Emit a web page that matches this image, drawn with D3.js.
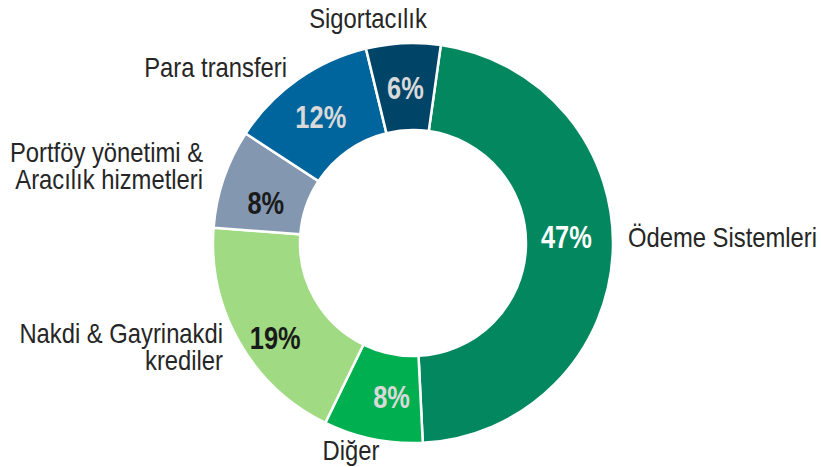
<!DOCTYPE html>
<html>
<head>
<meta charset="utf-8">
<script src="https://cdn.jsdelivr.net/npm/d3@7"></script>
<style>
  body { margin: 0; background: #fff; }
  svg text { font-family: "Liberation Sans", Arial, sans-serif; }
</style>
</head>
<body>
<svg width="821" height="467"></svg>
<script>
// Data
const categories = ["Ödeme Sistemleri", "Diğer", "Nakdi & Gayrinakdi krediler", "Portföy yönetimi & Aracılık hizmetleri", "Para transferi", "Sigortacılık"];
const shares = [47, 8, 19, 8, 12, 6];
const colors = ["#02875f", "#00b050", "#a0da82", "#8497b0", "#00659c", "#004468"];
const pctColors = ["#ffffff", "#d9d9d9", "#1a1a1a", "#1a1a1a", "#d9d9d9", "#d9d9d9"];

// Outer label lines
const labelLines = [["Ödeme Sistemleri"], ["Diğer"], ["Nakdi & Gayrinakdi", "krediler"], ["Portföy yönetimi &", "Aracılık hizmetleri"], ["Para transferi"], ["Sigortacılık"]];

// Layout (label placement, not data)
const labelLayout = [
    { x: 628, y: 247, anchor: "start" },
    { x: 351, y: 460, anchor: "middle" },
    { x: 223, y: 343, anchor: "end" },
    { x: 203, y: 162, anchor: "end" },
    { x: 287, y: 77, anchor: "end" },
    { x: 368, y: 28, anchor: "middle" }
];
const pctNudge = [[-3, -13], [10, 1], [-2, 17], [1, 10], [-2, 2], [0, 1]];
const narrow = 0.85;

const svg = d3.select("svg");
const cx = 413, cy = 243;
const outerR = 200, innerR = 113;
const startAngle = 8 * Math.PI / 180;

const pie = d3.pie()
    .sort(null)
    .startAngle(startAngle)
    .endAngle(startAngle + 2 * Math.PI);

const arcs = pie(shares);
const arc = d3.arc().innerRadius(innerR).outerRadius(outerR);

const g = svg.append("g").attr("transform", `translate(${cx},${cy})`);

// Slices
g.selectAll("path")
    .data(arcs)
    .enter()
    .append("path")
    .attr("d", arc)
    .attr("fill", (d, i) => colors[i])
    .attr("stroke", "#fff")
    .attr("stroke-width", 2.5);

// Percent labels
const labelArc = d3.arc().innerRadius(innerR + 40).outerRadius(outerR - 40);
g.selectAll("text.pct")
    .data(arcs)
    .enter()
    .append("text")
    .attr("class", "pct")
    .attr("transform", (d, i) => {
        const c = labelArc.centroid(d);
        return `translate(${c[0] + pctNudge[i][0]},${c[1] + pctNudge[i][1]}) scale(0.82,1)`;
    })
    .attr("text-anchor", "middle")
    .attr("dy", "0.36em")
    .attr("font-size", 31)
    .attr("font-weight", "bold")
    .attr("fill", (d, i) => pctColors[i])
    .text((d, i) => shares[i] + "%");

// Category labels
labelLines.forEach((lines, i) => {
    const p = labelLayout[i];
    const t = svg.append("text")
        .attr("transform", `translate(${p.x},${p.y}) scale(${narrow},1)`)
        .attr("text-anchor", p.anchor)
        .attr("font-size", 28)
        .attr("fill", "#262626");
    lines.forEach((line, j) => {
        t.append("tspan")
            .attr("x", 0)
            .attr("dy", j === 0 ? 0 : 27)
            .text(line);
    });
});
</script>
</body>
</html>
